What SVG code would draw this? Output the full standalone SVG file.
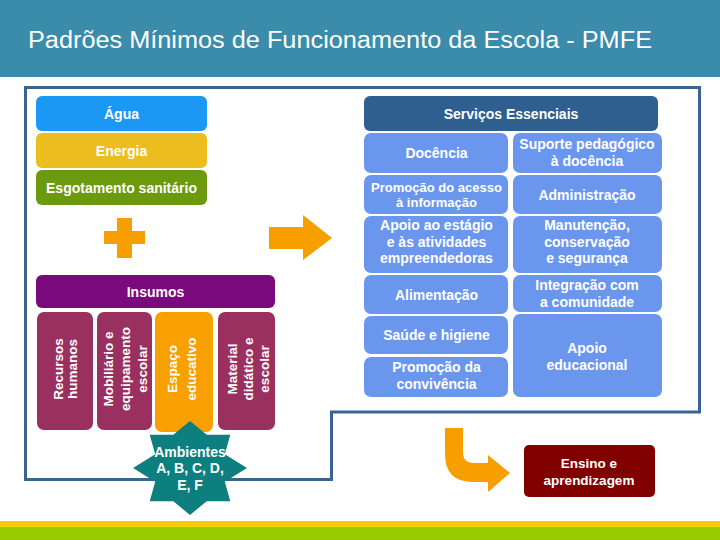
<svg xmlns="http://www.w3.org/2000/svg" width="720" height="540" viewBox="0 0 720 540">
<style>
text{font-family:"Liberation Sans",Arial,sans-serif;font-weight:bold;font-size:14px;fill:#fff;text-anchor:middle}
.sm{font-size:13px}
.vt{font-size:13.5px}
.cell{fill:#6a96ee}
.col{fill:#9a3060}
.org{fill:#f89f00}
</style>
<rect x="0" y="0" width="720" height="77" fill="#3b8bab"/>
<text x="28" y="48" style="font-size:23px;font-weight:normal;text-anchor:start" textLength="624" lengthAdjust="spacingAndGlyphs">Padrões Mínimos de Funcionamento da Escola - PMFE</text>
<rect x="0" y="521" width="720" height="6" fill="#f5cf00"/>
<rect x="0" y="527" width="720" height="13" fill="#99cc00"/>
<polygon points="25.5,87.5 699.5,87.5 699.5,412 331.5,412 331.5,479.5 25.5,479.5" fill="none" stroke="#3a6591" stroke-width="3"/>

<g id="agua"><rect x="36" y="96" width="171" height="35" rx="6" fill="#1a98f4"/><text x="121.5" y="119">Água</text></g>
<g id="energia"><rect x="36" y="133" width="171" height="35" rx="6" fill="#ebbd1e"/><text x="121.5" y="156">Energia</text></g>
<g id="esgotamento"><rect x="36" y="170" width="171" height="35" rx="6" fill="#6b9a0e"/><text x="121.5" y="193">Esgotamento sanitário</text></g>

<g id="plus"><path class="org" d="M117,218 H132 V231 H145 V244 H132 V258 H117 V244 H104 V231 H117 Z"/></g>

<g id="insumos"><rect x="36" y="275" width="239" height="33" rx="6" fill="#7a0a7c"/><text x="155.5" y="297">Insumos</text></g>
<g id="recursos"><rect class="col" x="37" y="312" width="56" height="118" rx="7"/>
<text class="vt" transform="rotate(-90)"><tspan x="-369" y="63">Recursos</tspan><tspan x="-369" y="77">humanos</tspan></text></g>
<g id="mobiliario"><rect class="col" x="97" y="312" width="55" height="118" rx="7"/>
<text class="vt" transform="rotate(-90)"><tspan x="-369" y="113">Mobiliário e</tspan><tspan x="-369" y="130">equipamento</tspan><tspan x="-369" y="147">escolar</tspan></text></g>
<g id="espaco"><rect x="155" y="312" width="58" height="120" rx="7" fill="#f7a000"/>
<text class="vt" transform="rotate(-90)"><tspan x="-369" y="177">Espaço</tspan><tspan x="-369" y="196">educativo</tspan></text></g>
<g id="material"><rect class="col" x="218" y="312" width="57" height="118" rx="7"/>
<text class="vt" transform="rotate(-90)"><tspan x="-369" y="237">Material</tspan><tspan x="-369" y="253">didático e</tspan><tspan x="-369" y="269">escolar</tspan></text></g>

<g id="ambientes"><polygon fill="#0e7f7f" points="190.0,421.0 206.7,434.8 230.3,434.8 224.8,454.2 247.0,468.0 224.8,481.8 230.3,501.2 206.7,501.2 190.0,515.0 173.3,501.2 149.7,501.2 155.2,481.8 133.0,468.0 155.2,454.2 149.7,434.8 173.3,434.8"/>
<text x="190" y="457">Ambientes</text><text x="190" y="473">A, B, C, D,</text><text x="190" y="490">E, F</text></g>

<g id="servicos"><rect x="364" y="96" width="294" height="35" rx="6" fill="#2f5f8f"/><text x="511" y="119">Serviços Essenciais</text></g>
<g id="docencia"><rect class="cell" x="364" y="133" width="144" height="40" rx="7"/><text x="436.5" y="158">Docência</text></g>
<g id="suporte"><rect class="cell" x="513" y="133" width="149" height="40" rx="7"/><text x="587" y="149">Suporte pedagógico</text><text x="587" y="166">à docência</text></g>
<g id="promocao-acesso"><rect class="cell" x="364" y="175" width="144" height="39" rx="7"/><text class="sm" x="436.5" y="192">Promoção do acesso</text><text class="sm" x="436.5" y="207">à informação</text></g>
<g id="administracao"><rect class="cell" x="513" y="175" width="149" height="39" rx="7"/><text x="587" y="200">Administração</text></g>
<g id="apoio-estagio"><rect class="cell" x="364" y="216" width="144" height="57" rx="7"/><text x="436.5" y="230">Apoio ao estágio</text><text x="436.5" y="247">e às atividades</text><text x="436.5" y="263">empreendedoras</text></g>
<g id="manutencao"><rect class="cell" x="513" y="216" width="149" height="57" rx="7"/><text x="587" y="230">Manutenção,</text><text x="587" y="247">conservação</text><text x="587" y="263">e segurança</text></g>
<g id="alimentacao"><rect class="cell" x="364" y="275" width="144" height="39" rx="7"/><text x="436.5" y="300">Alimentação</text></g>
<g id="integracao"><rect class="cell" x="513" y="275" width="149" height="37" rx="7"/><text x="587" y="290">Integração com</text><text x="587" y="307">a comunidade</text></g>
<g id="saude"><rect class="cell" x="364" y="316" width="144" height="38" rx="7"/><text x="436.5" y="340">Saúde e higiene</text></g>
<g id="promocao-convivencia"><rect class="cell" x="364" y="357" width="144" height="40" rx="7"/><text x="436.5" y="372">Promoção da</text><text x="436.5" y="389">convivência</text></g>
<g id="apoio-educacional"><rect class="cell" x="513" y="314" width="149" height="83" rx="7"/><text x="587" y="353">Apoio</text><text x="587" y="370">educacional</text></g>

<g id="ensino"><rect x="524" y="445" width="131" height="52" rx="5" fill="#800000"/><text style="font-size:13.5px" x="589" y="468">Ensino e</text><text style="font-size:13.5px" x="589" y="485">aprendizagem</text></g>

<g id="connectors">
<path class="org" d="M269,227 H303 V215 L332,238 L303,260 V249 H269 Z"/>
<path class="org" d="M445,428 H463 V452 Q463,463 474,463 H488 V455 L510,473 L488,492 V482 H473 Q445,482 445,454 Z"/>
</g>
</svg>
